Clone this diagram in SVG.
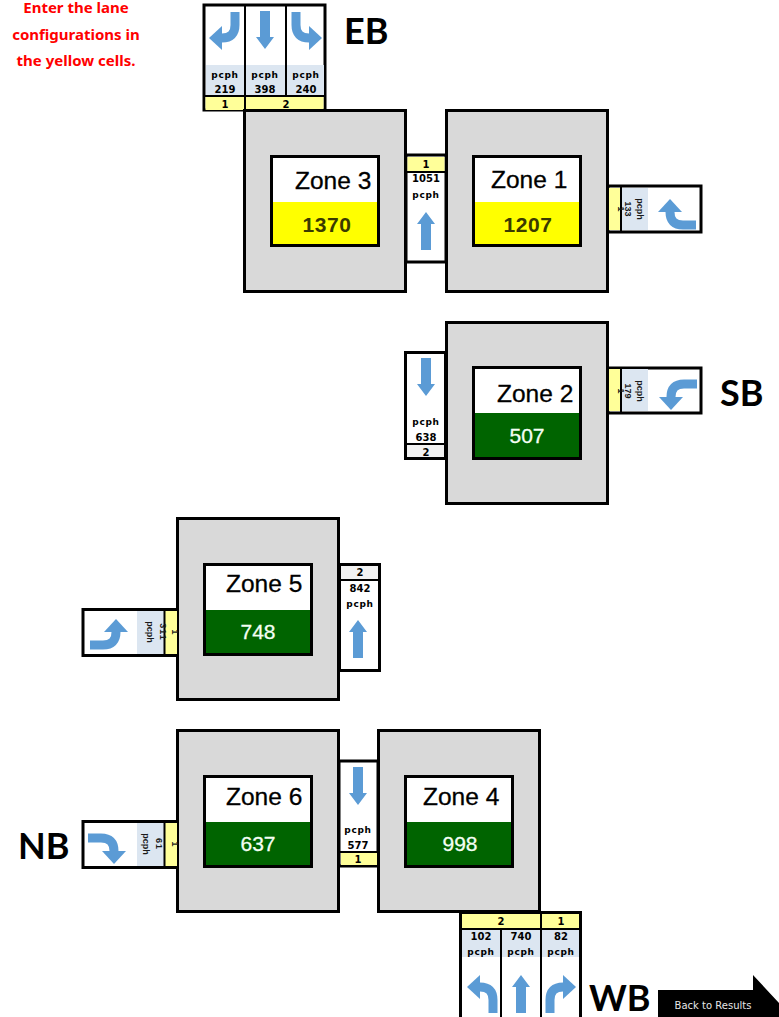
<svg xmlns="http://www.w3.org/2000/svg" xmlns:xlink="http://www.w3.org/1999/xlink" width="779" height="1017" viewBox="0 0 779 1017">
<style>
.zone{fill:#d9d9d9;stroke:#000;stroke-width:3}
.inner{fill:#fff;stroke:#000;stroke-width:3}
.box{fill:#fff;stroke:#000;stroke-width:3}
.line{stroke:#000;stroke-width:2;fill:none}
.yl{fill:#ffff99}.gy{fill:#f2f2f2}.bl{fill:#dce6f1}.ye{fill:#ffff00}.gn{fill:#006400}
.title{font:24.5px "Liberation Sans",Arial,sans-serif;fill:#000;stroke:#000;stroke-width:.3}
.num{font:bold 21px "Liberation Sans",Arial,sans-serif;text-anchor:middle;fill:#3a3a00;letter-spacing:.6px}
.numw{font:21px "Liberation Sans",Arial,sans-serif;text-anchor:middle;fill:#f4fff4;stroke:#f4fff4;stroke-width:.3}
.sm{font:bold 10px "DejaVu Sans",sans-serif;text-anchor:middle;fill:#000}
.pc{font:bold 9px "DejaVu Sans",sans-serif;text-anchor:middle;fill:#000;letter-spacing:.7px}
.rot{font:bold 9px "Liberation Sans",Arial,sans-serif;text-anchor:middle;fill:#1a1a1a}
.dir{font:bold 36px Lato,"Open Sans",sans-serif;fill:#000}
.note{font:bold 15px "Noto Sans",sans-serif;text-anchor:middle;fill:#ff0000}
.back{font:10px "DejaVu Sans",sans-serif;text-anchor:middle;fill:#e6e6e6}
.sh{fill:none;stroke:#5b9bd5;stroke-width:9}
.hd{fill:#5b9bd5}
</style>
<defs>
<g id="up"><path class="hd" d="M0 0L9 12H5V38H-5V12H-9Z"/></g>
<g id="turn"><path class="sh" d="M0 0V13Q0 26-13 26H-14"/><path class="hd" d="M-13 14V38L-26 26Z"/></g>
</defs>

<g id="note">
<text class="note" x="76" y="13">Enter the lane</text>
<text class="note" x="76" y="40">configurations in</text>
<text class="note" x="76" y="66">the yellow cells.</text>
</g>

<g id="eb-table">
<rect class="box" x="204" y="5" width="121" height="105"/>
<rect class="bl" x="206" y="65" width="118" height="31"/>
<rect class="yl" x="205.500" y="97" width="118" height="13"/>
<path class="line" d="M245 5V110M286 5V96M204 96H325"/>
<text class="pc" x="225" y="78">pcph</text><text class="pc" x="265" y="78">pcph</text><text class="pc" x="306" y="78">pcph</text>
<text class="sm" x="225" y="93">219</text><text class="sm" x="265" y="93">398</text><text class="sm" x="306" y="93">240</text>
<text class="sm" x="225" y="108">1</text><text class="sm" x="286" y="108">2</text>
</g>
<text id="label-eb" class="dir" x="344" y="44">EB</text>

<g id="z3-z1-table">
<rect class="box" x="406" y="155" width="40" height="107"/>
<rect class="yl" x="407.500" y="157" width="37" height="14"/>
<path class="line" d="M406 172H446"/>
<text class="sm" x="426" y="168">1</text>
<text class="sm" x="426" y="182">1051</text>
<text class="pc" x="426" y="198">pcph</text>
</g>

<g id="zone3">
<rect class="zone" x="244.500" y="110.500" width="161" height="181"/>
<rect class="inner" x="271.500" y="156.500" width="107" height="89"/>
<rect class="ye" x="273" y="202" width="104" height="42"/>
<text class="title" x="295" y="189">Zone 3</text>
<text class="num" x="327" y="232">1370</text>
</g>
<g id="zone1">
<rect class="zone" x="446.500" y="110.500" width="161" height="181"/>
<rect class="inner" x="473.500" y="156.500" width="107" height="89"/>
<rect class="ye" x="475" y="202" width="104" height="42"/>
<text class="title" x="491" y="188">Zone 1</text>
<text class="num" x="528" y="232">1207</text>
</g>

<g id="z1-table">
<rect class="box" x="608" y="186" width="93" height="46"/>
<rect class="yl" x="609" y="188" width="12" height="42"/>
<rect class="bl" x="622" y="188" width="26" height="42"/>
<path class="line" d="M621 186V232"/>
<text class="rot" transform="translate(618,209) rotate(90)">1</text>
<text class="rot" transform="translate(625,209) rotate(90)">133</text>
<text class="rot" transform="translate(637,209) rotate(90)">pcph</text>
</g>

<g id="zone2">
<rect class="zone" x="446.500" y="322.500" width="161" height="181"/>
<rect class="inner" x="473.500" y="367.500" width="107" height="91"/>
<rect class="gn" x="475" y="413" width="104" height="44"/>
<text class="title" x="497" y="402">Zone 2</text>
<text class="numw" x="527" y="443">507</text>
</g>
<g id="z2-left-table">
<rect class="box" x="405.500" y="352.500" width="40" height="106"/>
<rect class="gy" x="407" y="445" width="37" height="12"/>
<path class="line" d="M405 444H446"/>
<text class="pc" x="426" y="425">pcph</text>
<text class="sm" x="426" y="441">638</text>
<text class="sm" x="426" y="456">2</text>
</g>
<g id="z2-table">
<rect class="box" x="608" y="368" width="93" height="45"/>
<rect class="yl" x="609" y="369" width="12" height="42"/>
<rect class="bl" x="622" y="369" width="26" height="42"/>
<path class="line" d="M621 368V413"/>
<text class="rot" transform="translate(618,391) rotate(90)">1</text>
<text class="rot" transform="translate(625,391) rotate(90)">179</text>
<text class="rot" transform="translate(637,391) rotate(90)">pcph</text>
</g>
<text id="label-sb" class="dir" x="720" y="406">SB</text>

<g id="zone5">
<rect class="zone" x="177.500" y="518.500" width="161" height="181"/>
<rect class="inner" x="204.500" y="564.500" width="107" height="90"/>
<rect class="gn" x="206" y="610" width="104" height="43"/>
<text class="title" x="226" y="592">Zone 5</text>
<text class="numw" x="258" y="639">748</text>
</g>
<g id="z5-left-table">
<rect class="box" x="83" y="609.500" width="94" height="46"/>
<rect class="bl" x="137" y="611" width="27" height="43"/>
<rect class="yl" x="165" y="611" width="12" height="43"/>
<path class="line" d="M164.500 609V655"/>
<text class="rot" transform="translate(172,632) rotate(90)">1</text>
<text class="rot" transform="translate(160,632) rotate(90)" style="letter-spacing:1px">311</text>
<text class="rot" transform="translate(147,632) rotate(90)">pcph</text>
</g>
<g id="z5-right-table">
<rect class="box" x="339.500" y="564.500" width="40" height="106"/>
<rect class="gy" x="341" y="566" width="37" height="13"/>
<path class="line" d="M339 580H380"/>
<text class="sm" x="360" y="576">2</text>
<text class="sm" x="360" y="592">842</text>
<text class="pc" x="360" y="607">pcph</text>
</g>

<g id="z6-z4-table">
<rect class="box" x="339" y="761" width="39" height="105"/>
<rect class="yl" x="341" y="853" width="36" height="12"/>
<path class="line" d="M339 852H378"/>
<text class="pc" x="358" y="833">pcph</text>
<text class="sm" x="358" y="849">577</text>
<text class="sm" x="358" y="863">1</text>
</g>
<g id="zone6">
<rect class="zone" x="177.500" y="730.500" width="161" height="181"/>
<rect class="inner" x="204.500" y="776.500" width="107" height="90"/>
<rect class="gn" x="206" y="822" width="104" height="43"/>
<text class="title" x="226" y="805">Zone 6</text>
<text class="numw" x="258" y="851">637</text>
</g>
<g id="zone4">
<rect class="zone" x="378.500" y="730.500" width="161" height="181"/>
<rect class="inner" x="405.500" y="776.500" width="107" height="90"/>
<rect class="gn" x="407" y="822" width="104" height="43"/>
<text class="title" x="423" y="805">Zone 4</text>
<text class="numw" x="460" y="851">998</text>
</g>
<g id="z6-left-table">
<rect class="box" x="83" y="821.500" width="94" height="46"/>
<rect class="bl" x="137" y="823" width="27" height="43"/>
<rect class="yl" x="165" y="823" width="12" height="43"/>
<path class="line" d="M164.500 821V867"/>
<text class="rot" transform="translate(172,844) rotate(90)">1</text>
<text class="rot" transform="translate(156,844) rotate(90)" style="letter-spacing:1px">61</text>
<text class="rot" transform="translate(143,844) rotate(90)">pcph</text>
</g>
<text id="label-nb" class="dir" x="18" y="859">NB</text>

<g id="wb-table">
<rect class="box" x="460.500" y="912.500" width="120" height="110"/>
<rect class="yl" x="462" y="914" width="117" height="14"/>
<rect class="bl" x="462" y="930" width="117" height="27"/>
<path class="line" d="M460 929H581M501 929V1017M541 913V1017"/>
<text class="sm" x="501" y="925">2</text><text class="sm" x="561" y="925">1</text>
<text class="sm" x="481" y="940">102</text><text class="sm" x="521" y="940">740</text><text class="sm" x="561" y="940">82</text>
<text class="pc" x="481" y="955">pcph</text><text class="pc" x="521" y="955">pcph</text><text class="pc" x="561" y="955">pcph</text>
</g>
<text id="label-wb" class="dir" x="589" y="1011">WB</text>

<g id="back-to-results">
<path fill="#000" d="M658 990H753V975L779 1003V1017H658Z"/>
<text class="back" x="713" y="1009">Back to Results</text>
</g>

<g id="connectors">
<use xlink:href="#turn" href="#turn" transform="translate(235,12)"/>
<use xlink:href="#up" href="#up" transform="translate(265,49) scale(1,-1)"/>
<use xlink:href="#turn" href="#turn" transform="translate(296,12) scale(-1,1)"/>
<use xlink:href="#up" href="#up" transform="translate(426,212)"/>
<use xlink:href="#turn" href="#turn" transform="translate(696,225) rotate(90)"/>
<use xlink:href="#up" href="#up" transform="translate(426,396) scale(1,-1)"/>
<use xlink:href="#turn" href="#turn" transform="translate(697,384) rotate(90) scale(-1,1)"/>
<use xlink:href="#turn" href="#turn" transform="matrix(0,1,1,0,90,645)"/>
<use xlink:href="#up" href="#up" transform="translate(358,620)"/>
<use xlink:href="#turn" href="#turn" transform="matrix(0,-1,1,0,88,838)"/>
<use xlink:href="#up" href="#up" transform="translate(358,805) scale(1,-1)"/>
<use xlink:href="#turn" href="#turn" transform="translate(493,1013) scale(1,-1)"/>
<use xlink:href="#up" href="#up" transform="translate(521,975)"/>
<use xlink:href="#turn" href="#turn" transform="translate(550,1013) scale(-1,-1)"/>
</g>
</svg>
